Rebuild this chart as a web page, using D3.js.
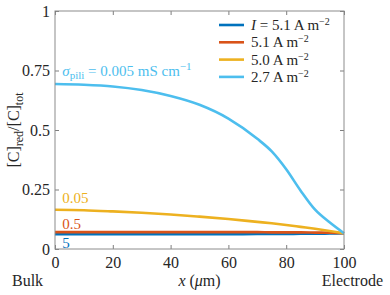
<!DOCTYPE html>
<html>
<head>
<meta charset="utf-8">
<script src="https://cdn.jsdelivr.net/npm/d3@7"></script>
</head>
<body style="margin:0">
<script>
var xs = [0, 10, 20, 30, 40, 50, 60, 70, 75, 80, 85, 90, 95, 100];
var s5 = [0.062, 0.062, 0.062, 0.062, 0.062, 0.062, 0.062, 0.063, 0.063, 0.063, 0.064, 0.064, 0.065, 0.066];
var s05 = [0.071, 0.071, 0.071, 0.071, 0.071, 0.071, 0.071, 0.071, 0.070, 0.070, 0.070, 0.069, 0.068, 0.066];
var s005 = [0.165, 0.163, 0.158, 0.152, 0.145, 0.136, 0.126, 0.114, 0.108, 0.101, 0.093, 0.085, 0.076, 0.066];
var s0005 = [0.693, 0.690, 0.683, 0.668, 0.643, 0.606, 0.548, 0.463, 0.41, 0.335, 0.245, 0.165, 0.112, 0.066];
var legendLabels = ["5.1", "5.1", "5.0", "2.7"];
var curveLabels = ["5", "0.5", "0.05", "0.005"];
var colors = ["#0072BD", "#D95319", "#EDB120", "#4DBEEE"];
var xTicks = [0, 20, 40, 60, 80, 100];
var yTicks = [0, 0.25, 0.5, 0.75, 1];
var yTickLabels = ["0", "0.25", "0.5", "0.75", "1"];

var W = 390, H = 295;
var m = {l: 55, r: 46, t: 11, b: 46};
var font = "'Liberation Serif'";
var svg = d3.select("body").append("svg").attr("width", W).attr("height", H);

var x = d3.scaleLinear().domain([0, 100]).range([m.l, W - m.r]);
var y = d3.scaleLinear().domain([0, 1]).range([H - m.b, m.t]);

var series = [s5, s05, s005, s0005];

var line = d3.line()
    .x(function(d, i){ return x(xs[i]); })
    .y(function(d){ return y(d); })
    .curve(d3.curveMonotoneX);

// ticks inward on all four sides
var tl = 4;
function tickStyle(g){
    g.select(".domain").remove();
    g.selectAll("line").attr("stroke", "#262626").attr("stroke-width", 0.6);
    g.selectAll("text").attr("fill", "#262626").style("font-size", "16px");
}
svg.append("g").attr("transform", "translate(0," + y(0) + ")")
    .call(d3.axisBottom(x).tickValues(xTicks).tickSizeInner(-tl).tickSizeOuter(0).tickPadding(8))
    .call(tickStyle);
svg.append("g").attr("transform", "translate(0," + y(1) + ")")
    .call(d3.axisTop(x).tickValues(xTicks).tickSizeInner(-tl).tickSizeOuter(0).tickFormat(""))
    .call(tickStyle);
svg.append("g").attr("transform", "translate(" + x(0) + ",0)")
    .call(d3.axisLeft(y).tickValues(yTicks).tickSizeInner(-tl).tickSizeOuter(0).tickPadding(5)
        .tickFormat(function(d, i){ return yTickLabels[i]; }))
    .call(tickStyle);
svg.append("g").attr("transform", "translate(" + x(100) + ",0)")
    .call(d3.axisRight(y).tickValues(yTicks).tickSizeInner(-tl).tickSizeOuter(0).tickFormat(""))
    .call(tickStyle);

svg.selectAll("path.s").data(series).enter().append("path")
    .attr("class", "s")
    .attr("d", line)
    .attr("fill", "none")
    .attr("stroke", function(d, i){ return colors[i]; })
    .attr("stroke-width", 2.6);

// box
svg.append("rect")
    .attr("x", x(0)).attr("y", y(1))
    .attr("width", x(100) - x(0)).attr("height", y(0) - y(1))
    .attr("fill", "none").attr("stroke", "#8c8c8c").attr("stroke-width", 1);

// curve labels
var labY = [0.005, 0.085, 0.195, 0.725];
svg.selectAll("text.cl").data(curveLabels).enter().append("text")
    .attr("class", "cl")
    .attr("x", x(2.5))
    .attr("y", function(d, i){ return y(labY[i]); })
    .attr("fill", function(d, i){ return colors[i]; })
    .style("font-size", "15px")
    .each(function(d, i){
        var t = d3.select(this);
        if (i === 3) {
            t.append("tspan").style("font-style", "italic").text("σ");
            t.append("tspan").attr("dy", 3).style("font-size", "11px").text("pili");
            t.append("tspan").attr("dy", -3).text(" = " + d + " mS cm");
            t.append("tspan").attr("dy", -6).style("font-size", "11px").text("−1");
        } else {
            t.text(d);
        }
    });

// legend
var lg = svg.append("g").attr("transform", "translate(219,25)");
legendLabels.forEach(function(v, i){
    var g = lg.append("g").attr("transform", "translate(0," + (i * 17.3) + ")");
    g.append("line").attr("x1", 0).attr("x2", 25).attr("y1", 0).attr("y2", 0)
        .attr("stroke", colors[i]).attr("stroke-width", 2.6);
    var t = g.append("text").attr("x", 32).attr("y", 5)
        .attr("fill", "#262626").style("font-size", "15px");
    if (i === 0) {
        t.append("tspan").style("font-style", "italic").text("I");
        t.append("tspan").text(" = " + v + " A m");
    } else {
        t.append("tspan").text(v + " A m");
    }
    t.append("tspan").attr("dy", -5).style("font-size", "10px").text("−2");
});

// axis labels
var xl = svg.append("text").attr("x", x(50)).attr("y", 286)
    .attr("text-anchor", "middle").attr("fill", "#262626").style("font-size", "16px");
xl.append("tspan").style("font-style", "italic").text("x");
xl.append("tspan").text(" (");
xl.append("tspan").style("font-style", "italic").text("μ");
xl.append("tspan").text("m)");

svg.append("text").attr("x", 12).attr("y", 286).attr("fill", "#262626")
    .style("font-size", "16px").text("Bulk");
svg.append("text").attr("x", 383).attr("y", 286).attr("text-anchor", "end")
    .attr("fill", "#262626").style("font-size", "16px").text("Electrode");

var yl = svg.append("text")
    .attr("transform", "translate(19," + ((y(0) + y(1)) / 2) + ") rotate(-90)")
    .attr("text-anchor", "middle").attr("fill", "#262626").style("font-size", "16px");
yl.append("tspan").text("[C]");
yl.append("tspan").attr("dy", 4).style("font-size", "12px").text("red");
yl.append("tspan").attr("dy", -4).text("/[C]");
yl.append("tspan").attr("dy", 4).style("font-size", "12px").text("tot");

svg.selectAll("text").style("font-family", font);
</script>
</body>
</html>
